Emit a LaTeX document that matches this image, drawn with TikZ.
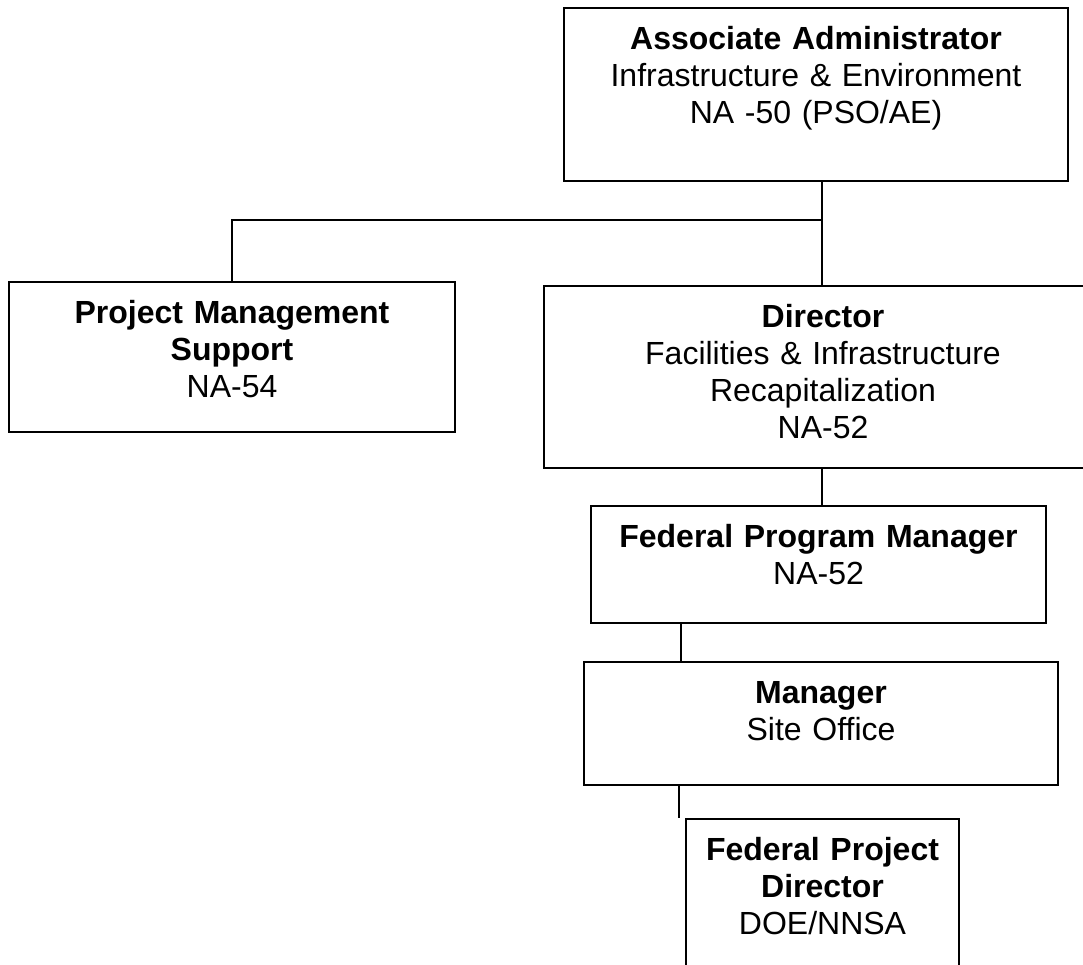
\documentclass[tikz,border=0pt]{standalone}
\usepackage{fontspec}
\setmainfont{Liberation Sans}
\begin{document}
\begin{tikzpicture}[x=0.75pt,y=-0.75pt,
  orgbox/.style={draw,line width=1.5pt,inner sep=0pt,anchor=north west,
    align=center,text height=31pt,font=\fontsize{24}{27.75}\selectfont},
  link/.style={line width=1.5pt}]
\useasboundingbox (0,0) rectangle (1083,965);
\clip (0,0) rectangle (1083,965);

% boxes
\node[orgbox,text width=378pt,text depth=98.75pt] (assoc) at (563,7)
  {\textbf{Associate Administrator}\\Infrastructure \& Environment\\NA -50 (PSO/AE)};
\node[orgbox,text width=334.5pt,text depth=81.5pt] (pms) at (8,281)
  {\textbf{Project Management}\\\textbf{Support}\\NA-54};
\node[orgbox,text width=418.5pt,text depth=105.5pt] (dir) at (543,285)
  {\textbf{Director}\\Facilities \& Infrastructure\\Recapitalization\\NA-52};
\node[orgbox,text width=341.25pt,text depth=56.75pt] (fpm) at (590,505)
  {\textbf{Federal Program Manager}\\NA-52};
\node[orgbox,text width=355.5pt,text depth=61.25pt] (site) at (583,661)
  {\textbf{Manager}\\Site Office};
\node[orgbox,text width=204.75pt,text depth=105.5pt] (fpd) at (685,818)
  {\textbf{Federal Project}\\\textbf{Director}\\DOE/NNSA};

% connectors
\coordinate (branch) at (822,220);
\draw[link] (branch |- assoc.south) -- (branch);
\draw[link] (branch) -| (pms.north);
\draw[link] (branch) -- (branch |- dir.north);
\draw[link] (branch |- dir.south) -- (branch |- fpm.north);

\coordinate (fpmtap) at ([xshift=68.25pt]fpm.south west);
\draw[link] (fpmtap) -- (fpmtap |- site.north);
\coordinate (sitetap) at ([xshift=72pt]site.south west);
\draw[link] (sitetap) -- (sitetap |- fpd.north);
\end{tikzpicture}
\end{document}
